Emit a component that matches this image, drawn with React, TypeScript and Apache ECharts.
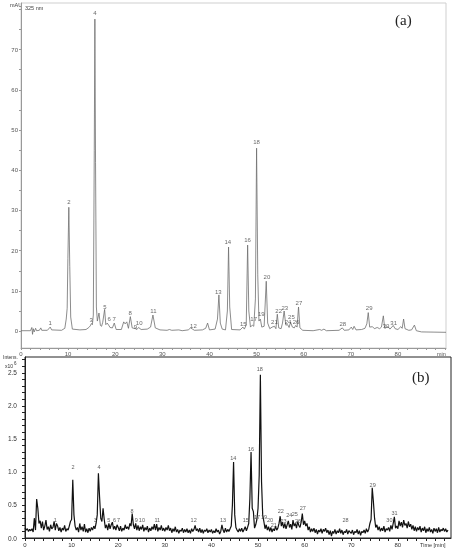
import React, { useEffect, useRef } from "react";
import * as echarts from "echarts";

// Panel (a): UV chromatogram at 325 nm, [time (min), mAU]
const uvTrace: [number, number][] = [
  [0, 0.1], [2.0, 0.1], [2.3, 0.9], [2.45, -0.8], [2.6, 0.6], [2.8, -0.2], [3.1, 0.7], [3.3, 0.1],
  [3.9, 0.2], [4.2, 0.8], [4.4, 0.2], [5.6, 0.2], [6.2, 1.0], [6.5, 0.3], [8.6, 0.2], [9.3, 0.7],
  [9.6, 3.0], [9.8, 5.7], [9.95, 18], [10.15, 30.8], [10.35, 16], [10.55, 3.5], [10.9, 0.5],
  [12.5, 0.3], [13.8, 0.4], [14.4, 0.9], [14.7, 1.3], [14.95, 1.9], [15.15, 1.6], [15.35, 4],
  [15.55, 45], [15.68, 77.6], [15.82, 42], [16.0, 6], [16.2, 2.5], [16.55, 4.5], [16.85, 1.4],
  [17.1, 1.2], [17.35, 2.2], [17.75, 5.4], [18.0, 1.6], [18.3, 2.0], [18.6, 1.5], [18.9, 0.9],
  [19.4, 0.8], [19.8, 2.0], [20.2, 0.4], [21.3, 0.4], [21.8, 2.3], [22.1, 1.8], [22.45, 2.3],
  [22.8, 0.7], [23.2, 3.6], [23.6, 0.8], [24.3, 0.6], [24.6, 0.4], [24.95, 0.9], [25.5, 0.4],
  [26.8, 0.5], [27.5, 1.0], [28.0, 4.0], [28.5, 0.8], [29.5, 0.3], [31.0, 0.2], [31.5, 0.4],
  [32.0, 0.2], [33.5, 0.3], [34.2, 0.1], [35.5, 0.3], [36.0, 0.8], [36.4, 0.5], [36.8, 0.2],
  [38.5, 0.3], [39.2, 0.7], [39.6, 2.0], [40.0, 0.3], [41.2, 0.5], [41.7, 3], [42.0, 9.0],
  [42.3, 2], [42.7, 0.5], [43.4, 0.3], [43.8, 5], [44.05, 20.9], [44.3, 6], [44.7, 0.4],
  [46.5, 0.3], [47.1, 1.0], [47.4, 0.5], [47.8, 1.5], [48.1, 21.4], [48.35, 5], [48.7, 1.0],
  [49.1, 1.5], [49.4, 1.2], [49.75, 8], [50.0, 45.5], [50.25, 14], [50.5, 2.5], [50.8, 3.0],
  [51.1, 1.0], [51.6, 1.2], [52.05, 12.4], [52.35, 2], [52.8, 0.6], [53.3, 1.0], [53.8, 1.2],
  [54.1, 0.6], [54.4, 4.2], [54.7, 0.8], [55.2, 0.6], [55.5, 2.0], [55.85, 5.0], [56.2, 1.5],
  [56.6, 1.6], [56.9, 0.9], [57.2, 2.2], [57.6, 1.0], [58.0, 0.8], [58.3, 1.4], [58.6, 1.0],
  [58.9, 6.0], [59.2, 0.8], [59.8, 0.2], [62.0, 0.1], [63.4, 0.4], [63.8, 0.2], [64.3, 0.5],
  [64.8, 0.1], [67.5, 0.2], [68.2, 0.8], [68.6, 0.2], [69.6, 0.3], [70.1, 1.0], [70.4, 0.4],
  [70.7, 1.2], [71.1, 0.3], [72.3, 0.4], [73.0, 0.7], [73.4, 1.8], [73.7, 4.6], [74.0, 1.0],
  [74.6, 1.1], [75.0, 0.6], [75.6, 0.9], [76.1, 0.6], [76.5, 1.0], [76.9, 3.8], [77.2, 0.7],
  [77.6, 0.9], [77.9, 1.1], [78.3, 0.5], [78.7, 1.0], [79.0, 1.4], [79.4, 0.6], [80.0, 0.4],
  [80.6, 1.1], [80.9, 0.7], [81.2, 3.0], [81.5, 0.6], [82.3, 0.2], [82.9, 0.3], [83.5, 1.5],
  [83.9, 0.1], [85.0, -0.2], [90.2, -0.3],
];

// Panel (a) peak labels: [peak no., time, label height (mAU)]
const uvLabels: [string, number, number][] = [
  ["1", 6.2, 1.9], ["2", 10.2, 32.1], ["3", 14.9, 2.8], ["4", 15.7, 79.0], ["5", 17.8, 6.0],
  ["6", 18.7, 3.0], ["7", 19.8, 3.0], ["8", 23.2, 4.6], ["9", 24.3, 1.1], ["10", 25.1, 2.0],
  ["11", 28.1, 5.0], ["12", 36.6, 1.3], ["13", 41.9, 9.8], ["14", 43.9, 22.1], ["15", 47.2, 1.8],
  ["16", 48.1, 22.6], ["17", 49.4, 2.9], ["18", 50.0, 47.0], ["19", 51.0, 4.3], ["20", 52.2, 13.5],
  ["21", 53.8, 2.2], ["22", 54.7, 5.0], ["23", 56.0, 5.7], ["24", 56.7, 2.2], ["25", 57.4, 3.5],
  ["26", 58.4, 2.2], ["27", 59.0, 7.1], ["28", 68.3, 1.7], ["29", 73.9, 5.8], ["30", 77.5, 1.3],
  ["31", 79.1, 1.9],
];

// Panel (b): MS intensity (x10^6), one reading every 0.25 min from t = 0
const msStep = 0.25;
const msValues: number[] = [
  0.15, 0.12, 0.14, 0.10, 0.13, 0.11, 0.14, 0.09, 0.30, 0.12, 0.59, 0.45, 0.22, 0.26, 0.15, 0.25, 0.12, 0.18, 0.27, 0.13,
  0.17, 0.10, 0.20, 0.14, 0.16, 0.25, 0.12, 0.22, 0.18, 0.11, 0.16, 0.09, 0.15, 0.12, 0.19, 0.10, 0.14, 0.12, 0.18, 0.25,
  0.28, 0.88, 0.35, 0.18, 0.12, 0.16, 0.09, 0.22, 0.12, 0.17, 0.10, 0.21, 0.09, 0.14, 0.08, 0.15, 0.10, 0.16, 0.12, 0.18,
  0.14, 0.22, 0.35, 0.98, 0.62, 0.30, 0.25, 0.45, 0.28, 0.15, 0.20, 0.12, 0.22, 0.14, 0.20, 0.24, 0.13, 0.18, 0.12, 0.20,
  0.16, 0.11, 0.18, 0.10, 0.15, 0.12, 0.20, 0.14, 0.17, 0.13, 0.22, 0.18, 0.37, 0.20, 0.14, 0.22, 0.12, 0.19, 0.11, 0.17,
  0.13, 0.20, 0.10, 0.16, 0.12, 0.18, 0.09, 0.15, 0.11, 0.17, 0.13, 0.21, 0.12, 0.21, 0.10, 0.16, 0.12, 0.19, 0.11, 0.15,
  0.10, 0.16, 0.12, 0.19, 0.11, 0.15, 0.08, 0.14, 0.10, 0.17, 0.09, 0.13, 0.07, 0.12, 0.10, 0.15, 0.08, 0.13, 0.09, 0.14,
  0.08, 0.12, 0.07, 0.14, 0.10, 0.13, 0.19, 0.11, 0.14, 0.09, 0.15, 0.08, 0.13, 0.07, 0.12, 0.10, 0.14, 0.08, 0.12, 0.09,
  0.13, 0.07, 0.11, 0.08, 0.14, 0.09, 0.12, 0.06, 0.10, 0.20, 0.12, 0.08, 0.15, 0.09, 0.13, 0.10, 0.14, 0.18, 0.50, 1.15,
  0.35, 0.16, 0.12, 0.09, 0.14, 0.10, 0.15, 0.09, 0.13, 0.17, 0.11, 0.16, 0.22, 0.60, 1.30, 0.45, 0.40, 0.15, 0.20, 0.28,
  0.45, 0.95, 2.47, 0.85, 0.35, 0.25, 0.14, 0.20, 0.12, 0.17, 0.10, 0.16, 0.09, 0.14, 0.11, 0.18, 0.12, 0.15, 0.22, 0.33,
  0.18, 0.24, 0.15, 0.22, 0.14, 0.20, 0.26, 0.16, 0.21, 0.13, 0.27, 0.18, 0.22, 0.15, 0.25, 0.19, 0.16, 0.24, 0.37, 0.20,
  0.26, 0.18, 0.22, 0.12, 0.17, 0.09, 0.14, 0.10, 0.15, 0.08, 0.13, 0.06, 0.12, 0.09, 0.14, 0.07, 0.13, 0.10, 0.15, 0.08,
  0.12, 0.05, 0.11, 0.03, 0.10, 0.07, 0.13, 0.06, 0.11, 0.08, 0.14, 0.07, 0.12, 0.05, 0.10, 0.08, 0.13, 0.06, 0.11, 0.09,
  0.07, 0.12, 0.05, 0.10, 0.08, 0.13, 0.06, 0.11, 0.04, 0.10, 0.08, 0.12, 0.07, 0.14, 0.09, 0.13, 0.22, 0.28, 0.76, 0.55,
  0.30, 0.16, 0.20, 0.12, 0.17, 0.10, 0.15, 0.11, 0.18, 0.09, 0.14, 0.12, 0.16, 0.10, 0.19, 0.13, 0.22, 0.32, 0.15, 0.18,
  0.14, 0.26, 0.18, 0.24, 0.16, 0.27, 0.19, 0.22, 0.15, 0.25, 0.17, 0.21, 0.13, 0.19, 0.11, 0.17, 0.10, 0.16, 0.12, 0.18,
  0.09, 0.15, 0.11, 0.17, 0.08, 0.14, 0.10, 0.16, 0.09, 0.13, 0.07, 0.15, 0.10, 0.14, 0.08, 0.16, 0.09, 0.13, 0.11, 0.15,
  0.10, 0.14, 0.09, 0.12,
];

// Panel (b) peak labels: [peak no., time, label height]
const msLabels: [string, number, number][] = [
  ["1", 6.5, 0.27], ["2", 10.3, 1.08], ["3", 15.1, 0.27], ["4", 15.9, 1.08], ["5", 18.0, 0.27],
  ["6", 19.2, 0.27], ["7", 20.1, 0.27], ["8", 23.0, 0.41], ["9", 23.9, 0.27], ["10", 25.1, 0.27],
  ["11", 28.4, 0.27], ["12", 36.2, 0.27], ["13", 42.5, 0.27], ["14", 44.7, 1.21], ["15", 47.4, 0.27],
  ["16", 48.5, 1.35], ["17", 49.8, 0.32], ["18", 50.4, 2.56], ["19", 51.3, 0.32], ["20", 52.6, 0.27],
  ["21", 53.4, 0.2], ["22", 54.9, 0.41], ["23", 55.5, 0.26], ["24", 56.7, 0.34], ["25", 57.9, 0.37],
  ["26", 58.6, 0.25], ["27", 59.6, 0.45], ["28", 68.8, 0.27], ["29", 74.6, 0.8], ["30", 78.2, 0.27],
  ["31", 79.3, 0.38],
];

const xLabelValues = [0, 10, 20, 30, 40, 50, 60, 70, 80];
const uvYLabels = [0, 10, 20, 30, 40, 50, 60, 70];
const msYLabels = [0, 0.5, 1.0, 1.5, 2.0, 2.5];

function range(a: number, b: number, s: number): number[] {
  const out: number[] = [];
  for (let v = a; v <= b + 1e-9; v += s) out.push(Math.round(v * 1000) / 1000);
  return out;
}

const FONT = "Liberation Sans, Arial, sans-serif";

export default function App() {
  const ref = useRef<HTMLDivElement>(null);
  useEffect(() => {
    if (!ref.current) return;
    const chart = echarts.init(ref.current, undefined, { renderer: "svg" });
    const msTrace = msValues.map((v, i) => [i * msStep, v]);
    const labelSeries = (rows: [string, number, number][], xi: number, size: number, color: string) => ({
      type: "scatter",
      xAxisIndex: xi,
      yAxisIndex: xi,
      symbolSize: 0.1,
      itemStyle: { color: "rgba(0,0,0,0)" },
      silent: true,
      data: rows.map((r) => ({ name: r[0], value: [r[1], r[2]] })),
      label: {
        show: true,
        position: [0, 0],
        align: "center",
        verticalAlign: "middle",
        formatter: (p: any) => p.name,
        fontSize: size,
        fontFamily: FONT,
        color,
        textBorderWidth: 0,
      },
      z: 5,
    });
    chart.setOption({
      animation: false,
      textStyle: { fontFamily: FONT },
      grid: [
        { left: 21, right: 10, top: 3, bottom: 202, show: true, borderColor: "#cfcfcf", borderWidth: 1, backgroundColor: "transparent" },
        { left: 25, right: 5, top: 357, bottom: 12, show: true, borderColor: "#222", borderWidth: 1, backgroundColor: "transparent" },
      ],
      xAxis: [
        {
          type: "value", gridIndex: 0, min: 0, max: 90.2,
          axisLine: { show: true, onZero: false, lineStyle: { color: "#999", width: 1 } },
          axisTick: { show: true, customValues: range(0, 90, 2), length: 2, lineStyle: { color: "#999" } },
          axisLabel: { customValues: xLabelValues, fontSize: 6, color: "#555", margin: 3, fontFamily: FONT },
          splitLine: { show: false },
        },
        {
          type: "value", gridIndex: 1, min: 0, max: 91.4,
          axisLine: { show: true, onZero: false, lineStyle: { color: "#222", width: 1 } },
          axisTick: { show: true, customValues: range(0, 90, 2), length: 3, lineStyle: { color: "#222" } },
          axisLabel: { customValues: xLabelValues, fontSize: 6, color: "#333", margin: 4, fontFamily: FONT },
          splitLine: { show: false },
        },
      ],
      yAxis: [
        {
          type: "value", gridIndex: 0, min: -4.2, max: 81.6,
          axisLine: { show: true, onZero: false, lineStyle: { color: "#999", width: 1 } },
          axisTick: { show: true, customValues: range(0, 80, 5), length: 2, lineStyle: { color: "#999" } },
          axisLabel: { customValues: uvYLabels, fontSize: 6, color: "#555", margin: 3, fontFamily: FONT },
          splitLine: { show: false },
        },
        {
          type: "value", gridIndex: 1, min: 0, max: 2.74,
          axisLine: { show: true, onZero: false, lineStyle: { color: "#222", width: 1 } },
          axisTick: { show: true, customValues: range(0, 2.7, 0.1), length: 3, lineStyle: { color: "#222" } },
          axisLabel: {
            customValues: msYLabels, fontSize: 6.5, color: "#333", margin: 8, fontFamily: FONT,
            formatter: (v: number) => v.toFixed(1),
          },
          splitLine: { show: false },
        },
      ],
      series: [
        {
          type: "line", xAxisIndex: 0, yAxisIndex: 0, data: uvTrace, showSymbol: false, symbol: "none",
          lineStyle: { color: "#6e6e6e", width: 0.8 }, silent: true,
        },
        labelSeries(uvLabels, 0, 6, "#444"),
        {
          type: "line", xAxisIndex: 1, yAxisIndex: 1, data: msTrace, showSymbol: false, symbol: "none",
          lineStyle: { color: "#111", width: 1.2 }, silent: true,
        },
        labelSeries(msLabels, 1, 5.5, "#333"),
      ],
      graphic: [
        { type: "text", left: 10, top: 2, style: { text: "mAU", fontSize: 5.5, fill: "#444", fontFamily: FONT } },
        { type: "text", left: 25, top: 5, style: { text: "325 nm", fontSize: 5.5, fill: "#444", fontFamily: FONT } },
        { type: "text", left: 395, top: 12, style: { text: "(a)", fontSize: 15, fill: "#222", fontFamily: "Liberation Serif, serif" } },
        { type: "text", left: 437, top: 351, style: { text: "min", fontSize: 5.5, fill: "#555", fontFamily: FONT } },
        { type: "text", left: 412, top: 369, style: { text: "(b)", fontSize: 15, fill: "#222", fontFamily: "Liberation Serif, serif" } },
        { type: "text", left: 3, top: 354, style: { text: "Intens.", fontSize: 5, fill: "#333", fontFamily: FONT } },
        { type: "text", left: 5, top: 363, style: { text: "x10", fontSize: 5, fill: "#333", fontFamily: FONT } },
        { type: "text", left: 14, top: 361, style: { text: "6", fontSize: 4.5, fill: "#333", fontFamily: FONT } },
        { type: "text", left: 420, top: 542, style: { text: "Time [min]", fontSize: 5.5, fill: "#333", fontFamily: FONT } },
      ],
    });
    return () => chart.dispose();
  }, []);
  return (
    <div
      ref={ref}
      style={{ position: "absolute", left: 0, top: 0, width: 456, height: 550, willChange: "transform" }}
    />
  );
}
